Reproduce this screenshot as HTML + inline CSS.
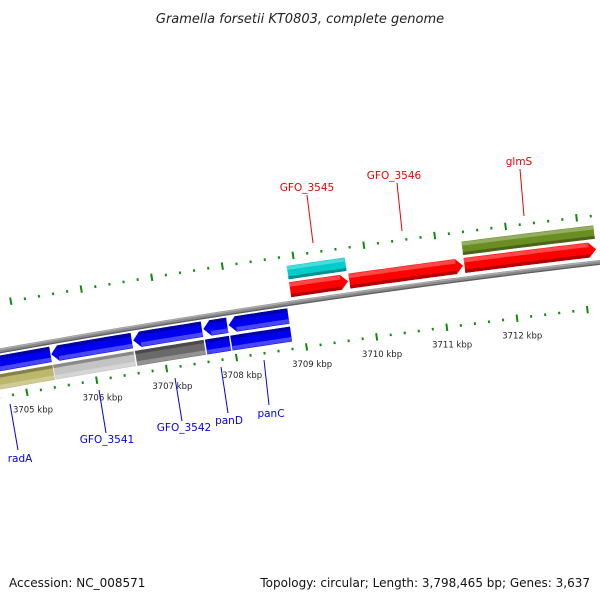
<!DOCTYPE html>
<html><head><meta charset="utf-8">
<style>
html,body{margin:0;padding:0;background:#fff;}
svg{display:block;font-family:"DejaVu Sans","Liberation Sans",sans-serif;}
</style></head>
<body>
<svg id="map" width="600" height="600" viewBox="0 0 600 600" xmlns="http://www.w3.org/2000/svg">
<rect width="600" height="600" fill="#fff"/>
<text x="300" y="23" text-anchor="middle" font-size="13" font-style="italic" fill="#222">Gramella forsetii KT0803, complete genome</text>
<g id="ticks"></g>
<g id="backbone"></g>
<g id="features"></g>
<g id="ticklabels"></g>
<g font-size="10.5">
  <line x1="520" y1="169" x2="524" y2="216" stroke="#e00" stroke-width="1"/>
  <text x="519" y="165" text-anchor="middle" fill="#e00">glmS</text>
  <line x1="397" y1="183" x2="402" y2="231" stroke="#e00" stroke-width="1"/>
  <text x="394" y="179" text-anchor="middle" fill="#e00">GFO_3546</text>
  <line x1="307" y1="195" x2="313" y2="243" stroke="#e00" stroke-width="1"/>
  <text x="307" y="191" text-anchor="middle" fill="#e00">GFO_3545</text>
  <line x1="10" y1="404" x2="18" y2="450" stroke="#00e" stroke-width="1"/>
  <text x="20" y="462" text-anchor="middle" fill="#00e">radA</text>
  <line x1="99" y1="390" x2="106" y2="433" stroke="#00e" stroke-width="1"/>
  <text x="107" y="443" text-anchor="middle" fill="#00e">GFO_3541</text>
  <line x1="175" y1="378" x2="182" y2="421" stroke="#00e" stroke-width="1"/>
  <text x="184" y="431" text-anchor="middle" fill="#00e">GFO_3542</text>
  <line x1="221" y1="367" x2="228" y2="413" stroke="#00e" stroke-width="1"/>
  <text x="229" y="424" text-anchor="middle" fill="#00e">panD</text>
  <line x1="264" y1="360" x2="269" y2="405" stroke="#00e" stroke-width="1"/>
  <text x="271" y="417" text-anchor="middle" fill="#00e">panC</text>
</g>
<text x="9" y="587" font-size="12" fill="#111">Accession: NC_008571</text>
<text x="590" y="587" font-size="12" fill="#111" text-anchor="end">Topology: circular; Length: 3,798,465 bp; Genes: 3,637</text>
</svg>
<script>
// ---- data ----
var geneStart = [3704.0, 3705.43, 3706.60, 3707.60, 3707.96, 3708.89, 3709.73, 3711.36];
var geneEnd   = [3705.42, 3706.58, 3707.58, 3707.94, 3708.81, 3709.71, 3711.34, 3713.22];
var geneStrand = [-1, -1, -1, -1, -1, 1, 1, 1];
var geneCogColor = ["#bdb76b", "#c4c4c4", "#6a6a6a", "#0000ee", "#0000ee", "#00cccc", null, "#6b8e23"];
var tickKbpMin = 3703;
var tickKbpMax = 3715;
var tickLabels = ["3705 kbp","3706 kbp","3707 kbp","3708 kbp","3709 kbp","3710 kbp","3711 kbp","3712 kbp"];
var tickLabelKbp = [3705, 3706, 3707, 3708, 3709, 3710, 3711, 3712];

// ---- geometry ----
var CX = 1730, CY = 9997, R0 = 9800;
var A0 = -10.055, DEG_PER_KBP = 0.416;
function P(kbp, off) {
  var a = (A0 + (kbp - 3705) * DEG_PER_KBP) * Math.PI / 180;
  var r = R0 + off;
  return [CX + r * Math.sin(a), CY - r * Math.cos(a)];
}
function arcPts(k1, k2, off, n) {
  var pts = [];
  for (var i = 0; i <= n; i++) pts.push(P(k1 + (k2 - k1) * i / n, off));
  return pts;
}
function ptsStr(pts) { return pts.map(function(p){return p[0].toFixed(2)+","+p[1].toFixed(2);}).join(" "); }
var NS = "http://www.w3.org/2000/svg";
function mk(tag, attrs, parent) {
  var e = document.createElementNS(NS, tag);
  for (var k in attrs) e.setAttribute(k, attrs[k]);
  parent.appendChild(e);
  return e;
}
function shade(hex, f) {
  var n = parseInt(hex.slice(1), 16);
  var r = (n >> 16) & 255, g = (n >> 8) & 255, b = n & 255;
  function c(v){ v = f > 1 ? v + (255 - v) * (f - 1) : v * f; return Math.max(0, Math.min(255, Math.round(v))); }
  return "rgb(" + c(r) + "," + c(g) + "," + c(b) + ")";
}

// ---- ticks ----
var gT = document.getElementById("ticks");
function tickRing(sign) {
  var base = sign > 0 ? 47 : -45.5;
  var count = Math.round((tickKbpMax - tickKbpMin) / 0.2);
  for (var i = 0; i <= count; i++) {
    var k = tickKbpMin + i * 0.2;
    var major = Math.abs(k - Math.round(k)) < 1e-6;
    var half = major ? 3.7 : 1.3;
    var p1 = P(k, base - half), p2 = P(k, base + half);
    var ln = mk("line", {x1:p1[0], y1:p1[1], x2:p2[0], y2:p2[1], stroke:"#118a11", "stroke-width":2}, gT);
    
    
  }
}
tickRing(1); tickRing(-1);

// ---- backbone ----
var gB = document.getElementById("backbone");
var bbOuter = arcPts(3703, 3715, 2.5, 60), bbInner = arcPts(3703, 3715, -2.5, 60).reverse();
var bb = mk("polygon", {points: ptsStr(bbOuter.concat(bbInner)), fill:"#8a8a8a"}, gB);


var bbHi = mk("polyline", {points: ptsStr(arcPts(3703, 3715, 1.5, 60)), fill:"none", stroke:"#b0b0b0", "stroke-width":1.2}, gB);


var bbLo = mk("polyline", {points: ptsStr(arcPts(3703, 3715, -1.8, 60)), fill:"none", stroke:"#5e5e5e", "stroke-width":1.2}, gB);



// ---- features ----
var gF = document.getElementById("features");
var ARROW = 0.1;
function feature(k1, k2, o1, o2, color, arrowDir, name) {
  var n = 12, outer, inner, pts;
  var mid = (o1 + o2) / 2;
  if (arrowDir === 1) {
    var kb = Math.max(k1, k2 - ARROW);
    outer = arcPts(k1, kb, o2, n);
    inner = arcPts(k1, kb, o1, n).reverse();
    pts = outer.concat([P(k2, mid)]).concat(inner);
  } else if (arrowDir === -1) {
    var ka = Math.min(k2, k1 + ARROW);
    outer = arcPts(ka, k2, o2, n);
    inner = arcPts(ka, k2, o1, n).reverse();
    pts = [P(k1, mid)].concat(outer).concat(inner);
  } else {
    outer = arcPts(k1, k2, o2, n);
    inner = arcPts(k1, k2, o1, n).reverse();
    pts = outer.concat(inner);
  }
  var g = mk("g", {}, gF);
  
  
  var body = mk("polygon", {points: ptsStr(pts), fill: color}, g);
  
  
  var kk1 = arrowDir === -1 ? k1 + ARROW : k1, kk2 = arrowDir === 1 ? k2 - ARROW : k2;
  var h = o2 - o1;
  var hiA = o2 > 0 ? o2 - 0.5 : o1 + 0.5, hiB = o2 > 0 ? o2 - h * 0.3 : o1 + h * 0.3;
  var loA = o2 > 0 ? o1 : o2, loB = o2 > 0 ? o1 + h * 0.22 : o2 - h * 0.22;
  var hi = mk("polygon", {points: ptsStr(arcPts(kk1, kk2, hiA, n).concat(arcPts(kk1, kk2, hiB, n).reverse())), fill: shade(color, 1.35), opacity: 0.8}, g);
  
  
  var lo = mk("polygon", {points: ptsStr(arcPts(kk1, kk2, loA, n).concat(arcPts(kk1, kk2, loB, n).reverse())), fill: shade(color, 0.7)}, g);
  
  
}
for (var i = 0; i < geneStart.length; i++) {
  var s = geneStrand[i];
  var strandColor = s > 0 ? "#ff0000" : "#0000ee";
  if (s > 0) {
    feature(geneStart[i], geneEnd[i], 6, 21, strandColor, 1, 'gene-' + i + '-forward');
    if (geneCogColor[i]) feature(geneStart[i], geneEnd[i], 24, 37.5, geneCogColor[i], 0, 'gene-' + i + '-cog');
  } else {
    feature(geneStart[i], geneEnd[i], -20, -4.5, strandColor, -1, 'gene-' + i + '-reverse');
    if (geneCogColor[i]) feature(geneStart[i], geneEnd[i], -38, -23, geneCogColor[i], 0, 'gene-' + i + '-cog');
  }
}

// ---- tick labels ----
var gL = document.getElementById("ticklabels");
for (var j = 0; j < tickLabels.length; j++) {
  var p = P(tickLabelKbp[j], -63);
  var t = mk("text", {x: p[0] + 3, y: p[1] + 3, "text-anchor":"middle", "font-size":"8.5", fill:"#222"}, gL);
  
  
  t.textContent = tickLabels[j];
}
</script>
</body></html>
